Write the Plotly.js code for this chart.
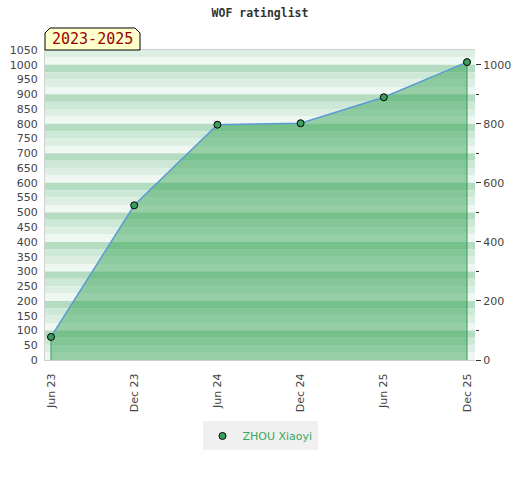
<!DOCTYPE html>
<html>
<head>
<meta charset="utf-8">
<script src="https://cdn.plot.ly/plotly-3.0.1.min.js"></script>
<style>html,body{margin:0;padding:0;background:#fff;}</style>
</head>
<body>
<div id="chart" style="width:520px;height:480px;"></div>
<script>
const categories = ["Jun 23", "Dec 23", "Jun 24", "Dec 24", "Jun 25", "Dec 25"];
const ratings = [78, 524, 797, 802, 890, 1009];
const playerName = "ZHOU Xiaoyi";
const periodLabel = "2023-2025";
const chartTitle = "WOF ratinglist";
const leftTicks = [0,50,100,150,200,250,300,350,400,450,500,550,600,650,700,750,800,850,900,950,1000,1050];
const rightTicks = [0,200,400,600,800,1000];

const yRange = [0, 1050];
const bandColors = ["#b4dcc1", "#cde8d6", "#ddefe3", "#eef7f1"]; // from top of each 100 block downward

// striped background
const shapes = [];
for (let top = 1050; top > 0; top -= 25) {
  const idx = ((1000 - top) / 25 % 4 + 4) % 4;
  shapes.push({type:'rect', xref:'paper', yref:'y', x0:0, x1:1, y0:top-25, y1:top,
    fillcolor: bandColors[idx], line:{width:0}, layer:'below'});
}
// label box with clipped top corners
shapes.push({type:'path', xref:'paper', yref:'paper',
  path:'M 0 1 L 0 1.055 L 0.012 1.071 L 0.209 1.071 L 0.221 1.055 L 0.221 1 Z',
  fillcolor:'#ffffcc', line:{color:'#000', width:1}, layer:'above'});

const firstLast = [0, categories.length - 1];
const traces = [
  {x: categories, y: ratings, type:'scatter', mode:'lines', fill:'tozeroy',
   fillcolor:'rgba(46,159,79,0.46)', line:{color:'#5b9bd5', width:1.5},
   showlegend:false, hoverinfo:'skip'},
  {x: [categories[firstLast[0]], categories[firstLast[0]], null, categories[firstLast[1]], categories[firstLast[1]]],
   y: [0, ratings[firstLast[0]], null, 0, ratings[firstLast[1]]],
   type:'scatter', mode:'lines', line:{color:'#3a9a5a', width:1}, showlegend:false, hoverinfo:'skip'},
  {x: categories, y: ratings, type:'scatter', mode:'markers', name: playerName,
   marker:{color:'#3a9e5e', size:7, line:{color:'#000', width:1}}},
  {x: categories, y: ratings, type:'scatter', mode:'markers', yaxis:'y2',
   marker:{opacity:0}, showlegend:false, hoverinfo:'skip'}
];

const layout = {
  width:520, height:480,
  margin:{l:45, r:45, t:50, b:120},
  paper_bgcolor:'#fff', plot_bgcolor:'rgba(0,0,0,0)',
  title:{text: chartTitle, x:0.5, xanchor:'center', y:0.973, yanchor:'middle',
    font:{family:'DejaVu Sans Mono', size:11.5, color:'#333', weight:'bold'}},
  font:{family:'DejaVu Sans', size:11, color:'#444'},
  xaxis:{type:'category', range:[-0.072, 5.096], tickangle:-90,
    tickmode:'array', tickvals:categories, ticktext:categories,
    showgrid:false, zeroline:false, showline:true, linecolor:'#d0d0d0', ticks:'',
    ticklabelstandoff:8,
    tickfont:{size:11, color:'#444'}, mirror:true},
  yaxis:{range:yRange, tickmode:'array', tickvals:leftTicks, ticktext:leftTicks.map(String),
    showgrid:false, zeroline:false, showline:true, linecolor:'#d0d0d0', ticks:'',
    ticklabelstandoff:4,
    tickfont:{size:11, color:'#444'}, fixedrange:true},
  yaxis2:{range:yRange, overlaying:'y', side:'right', tickmode:'array',
    tickvals:rightTicks, ticktext:rightTicks.map(String),
    showgrid:false, zeroline:false, showline:false, ticks:'outside', ticklen:5, tickcolor:'#333',
    minor:{dtick:100, ticks:'outside', ticklen:3, tickcolor:'#333'},
    tickfont:{size:11, color:'#444'}},
  shapes: shapes,
  annotations:[{xref:'paper', yref:'paper', x:0.110, y:1.035, text: periodLabel,
    showarrow:false, xanchor:'center', yanchor:'middle',
    font:{family:'DejaVu Sans Mono', size:15, color:'#990000'}}],
  legend:{orientation:'h', x:0.5, xanchor:'center', y:-0.245, yanchor:'middle',
    bgcolor:'#f0f0f0', font:{size:11, color:'#3aa85a'}},
  showlegend:true
};

Plotly.newPlot('chart', traces, layout, {displayModeBar:false, staticPlot:true});
</script>
</body>
</html>
